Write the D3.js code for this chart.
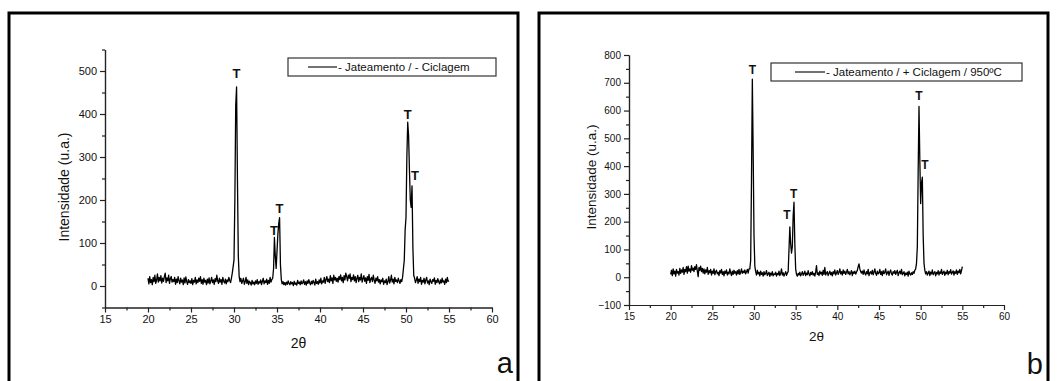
<!DOCTYPE html>
<html><head><meta charset="utf-8">
<script src="https://cdn.jsdelivr.net/npm/d3@7"></script>
<style>
body{margin:0;background:#fff}
svg{display:block}
text{font-family:Arial,"Liberation Sans",sans-serif;fill:#111}
</style>
</head><body>
<svg id="c" width="1057" height="381"></svg>
<script>
// 2θ grid: 20.0 .. 55.0, step 0.1
const twoTheta = d3.range(351).map(i => +(20 + i * 0.1).toFixed(1));

// (a) - Jateamento / - Ciclagem
const intensityA = [
 18,5,22,8,15,3,20,10,25,6,
 14,28,9,20,12,24,7,18,11,22,
 30,8,19,12,25,6,17,22,9,15,
 10,20,4,16,8,22,12,5,18,9,
 14,3,19,7,21,10,4,15,8,12,
 6,17,3,13,9,20,5,14,8,18,
 11,22,6,15,4,18,9,13,3,16,
 7,19,5,12,20,8,14,4,17,10,
 25,12,6,18,9,15,4,20,11,7,
 16,5,14,10,20,13,8,18,30,45,
 60,200,420,463,250,70,22,10,18,6,
 12,18,4,10,20,6,14,3,11,8,
 2,13,5,9,3,12,6,15,4,10,
 7,14,3,11,18,5,12,8,16,4,
 13,6,20,9,15,18,40,113,70,41,
 80,120,145,159,50,15,5,10,3,8,
 2,9,4,12,6,3,10,5,8,1,
 11,4,7,2,13,6,9,3,12,5,
 8,14,4,10,2,12,6,15,7,3,
 11,5,13,8,2,16,6,10,4,14,
 7,18,5,12,9,20,6,15,22,10,
 16,8,24,12,19,6,25,14,20,11,
 18,9,22,15,26,12,20,8,24,14,
 30,22,12,25,18,28,10,20,15,26,
 12,22,8,18,25,10,20,14,28,9,
 17,24,11,19,6,22,13,27,8,16,
 20,10,25,14,6,18,12,22,9,15,
 5,14,10,18,4,12,8,16,3,11,
 22,7,13,25,9,16,5,20,11,14,
 8,18,12,6,15,10,20,40,60,130,
 160,300,381,350,270,200,183,233,90,25,
 18,8,14,22,6,16,10,20,4,13,
 9,18,5,14,20,7,12,3,16,10,
 6,15,11,19,4,13,8,17,10,5,
 14,7,18,9,12,4,16,8,20,11,
 12
];

// (b) - Jateamento / + Ciclagem / 950ºC
const intensityB = [
 10,25,6,30,12,22,4,28,15,20,
 8,32,14,26,18,35,10,28,20,38,
 15,40,22,30,18,42,25,33,20,38,
 28,45,22,2,35,25,40,20,32,15,
 30,12,26,18,35,10,24,16,28,8,
 22,14,30,9,20,25,12,18,6,24,
 15,28,10,20,5,22,14,26,8,18,
 12,30,16,6,22,10,25,14,20,8,
 24,12,28,10,18,30,14,22,16,26,
 12,20,28,15,30,30,60,350,713,450,
 150,40,20,8,25,12,18,5,22,10,
 16,4,20,9,14,24,6,12,18,3,
 15,8,20,5,12,10,18,4,14,9,
 22,6,13,30,8,16,4,12,20,7,
 15,20,100,181,120,87,110,220,270,120,
 30,10,4,14,8,18,5,12,20,7,
 13,22,6,15,9,24,11,5,17,10,
 20,8,14,4,18,42,10,16,6,22,
 12,18,7,25,10,35,8,15,20,6,
 14,22,9,17,5,20,12,26,8,15,
 24,10,18,30,12,20,8,26,14,22,
 10,18,28,12,20,9,16,24,6,19,
 14,22,11,18,25,38,48,30,20,15,
 22,10,26,14,8,20,12,28,6,16,
 20,11,25,9,18,30,14,7,22,12,
 16,28,10,20,6,24,13,18,30,9,
 15,22,7,19,26,12,8,20,14,24,
 10,18,25,6,16,22,12,28,9,14,
 20,5,15,10,18,4,22,12,8,16,
 10,20,14,25,30,50,110,380,615,420,
 265,340,360,150,50,25,12,20,8,15,
 22,6,18,12,26,9,15,20,5,17,
 12,24,8,19,14,28,10,16,22,7,
 18,13,25,9,20,15,27,11,17,23,
 8,20,14,26,10,22,16,28,12,24,
 38
];

const xTicks = [15,20,25,30,35,40,45,50,55,60];
const xMinor = [17.5,22.5,27.5,32.5,37.5,42.5,47.5,52.5,57.5];
const yTicksA = [0,100,200,300,400,500];
const yMinorA = [-50,50,150,250,350,450,550];
const yTicksB = [-100,0,100,200,300,400,500,600,700,800];
const yMinorB = [-50,50,150,250,350,450,550,650,750];

const legendA = "- Jateamento / - Ciclagem";
const legendB = "- Jateamento / + Ciclagem / 950ºC";
const yTitle = "Intensidade (u.a.)";
const xTitle = "2θ";
const peakMark = "T";
// label anchors for the "T" marks, in data units [2θ, intensity]
const peaksA = [[30.3,495],[34.65,130],[35.3,180],[50.2,400],[51.05,258]];
const peaksB = [[29.8,747],[33.95,225],[34.75,300],[49.8,651],[50.5,405]];

const svg = d3.select("#c");

function panel(cfg) {
  const g = svg.append("g");
  // frame
  g.append("rect").attr("x", cfg.frame[0]).attr("y", cfg.frame[1])
    .attr("width", cfg.frame[2]).attr("height", cfg.frame[3])
    .attr("fill", "none").attr("stroke", "#000").attr("stroke-width", 3);

  const x = d3.scaleLinear().domain([15, 60]).range([cfg.x0, cfg.x1]);
  const y = d3.scaleLinear().domain(cfg.yDom).range([cfg.y0, cfg.y1]);

  const axStyle = sel => {
    sel.selectAll("path,line").attr("stroke", "#222").attr("stroke-width", 1.2);
    sel.selectAll("text").attr("font-size", cfg.tickFont).attr("fill", "#111")
      .attr("font-family", "Arial, 'Liberation Sans', sans-serif");
  };

  g.append("g").attr("transform", `translate(0,${cfg.y0})`)
    .call(d3.axisBottom(x).tickValues(xMinor).tickSize(3).tickSizeOuter(0).tickFormat(""))
    .call(axStyle);
  g.append("g").attr("transform", `translate(0,${cfg.y0})`)
    .call(d3.axisBottom(x).tickValues(xTicks).tickSize(5).tickSizeOuter(0).tickPadding(3))
    .call(axStyle);
  g.append("g").attr("transform", `translate(${cfg.x0},0)`)
    .call(d3.axisLeft(y).tickValues(cfg.yMinor).tickSize(3).tickSizeOuter(0).tickFormat(""))
    .call(axStyle);
  g.append("g").attr("transform", `translate(${cfg.x0},0)`)
    .call(d3.axisLeft(y).tickValues(cfg.yTicks).tickSize(5).tickSizeOuter(0).tickPadding(3))
    .call(axStyle);

  // data
  const line = d3.line().x((d, i) => x(twoTheta[i])).y(d => y(d));
  g.append("path").datum(cfg.data).attr("d", line)
    .attr("fill", "none").attr("stroke", "#000").attr("stroke-width", 1.3)
    .attr("stroke-linejoin", "round");

  // T labels
  g.selectAll("text.pk").data(cfg.peaks).enter().append("text")
    .attr("class", "pk")
    .attr("x", d => x(d[0])).attr("y", d => y(d[1]))
    .attr("text-anchor", "middle").attr("dominant-baseline", "central")
    .attr("font-size", cfg.pkFont).attr("font-weight", "bold").text(peakMark);

  // axis titles
  g.append("text").attr("transform", `translate(${cfg.yTitleX},${cfg.yTitleY}) rotate(-90)`)
    .attr("text-anchor", "middle").attr("dominant-baseline", "central")
    .attr("font-size", cfg.titleFont).text(yTitle);
  g.append("text").attr("x", (cfg.x0 + cfg.x1) / 2).attr("y", cfg.xTitleY)
    .attr("text-anchor", "middle").attr("dominant-baseline", "central")
    .attr("font-size", cfg.titleFont).text(xTitle);

  // legend
  const L = cfg.legend;
  g.append("rect").attr("x", L.x).attr("y", L.y).attr("width", L.w).attr("height", L.h)
    .attr("fill", "#fff").attr("stroke", "#333").attr("stroke-width", 1.2);
  g.append("line").attr("x1", L.lx0).attr("x2", L.lx1)
    .attr("y1", L.y + L.h / 2).attr("y2", L.y + L.h / 2)
    .attr("stroke", "#000").attr("stroke-width", 1.1);
  g.append("text").attr("x", L.lx1 + 1).attr("y", L.y + L.h / 2)
    .attr("dominant-baseline", "central").attr("font-size", L.font).text(cfg.legendText);

  // panel letter
  g.append("text").attr("x", cfg.letter[0]).attr("y", cfg.letter[1])
    .attr("font-size", 29).attr("text-anchor", "end").text(cfg.letter[2]);
}

panel({
  frame: [9, 13, 509, 400],
  x0: 105, x1: 492, y0: 307.5, y1: 49.5, yDom: [-50, 550],
  yTicks: yTicksA, yMinor: yMinorA, data: intensityA, peaks: peaksA,
  tickFont: 11, pkFont: 13, titleFont: 14,
  yTitleX: 64, yTitleY: 187, xTitleY: 343,
  legend: {x: 288, y: 58, w: 208, h: 18, lx0: 308, lx1: 337, font: 11.5},
  legendText: legendA,
  letter: [513, 373, "a"]
});

panel({
  frame: [539, 13, 509, 400],
  x0: 629, x1: 1004, y0: 305, y1: 55, yDom: [-100, 800],
  yTicks: yTicksB, yMinor: yMinorB, data: intensityB, peaks: peaksB,
  tickFont: 10, pkFont: 12, titleFont: 13.5,
  yTitleX: 591, yTitleY: 177, xTitleY: 336,
  legend: {x: 771, y: 63, w: 251, h: 18, lx0: 795, lx1: 825, font: 11.5},
  legendText: legendB,
  letter: [1043, 374, "b"]
});
</script>
</body></html>
